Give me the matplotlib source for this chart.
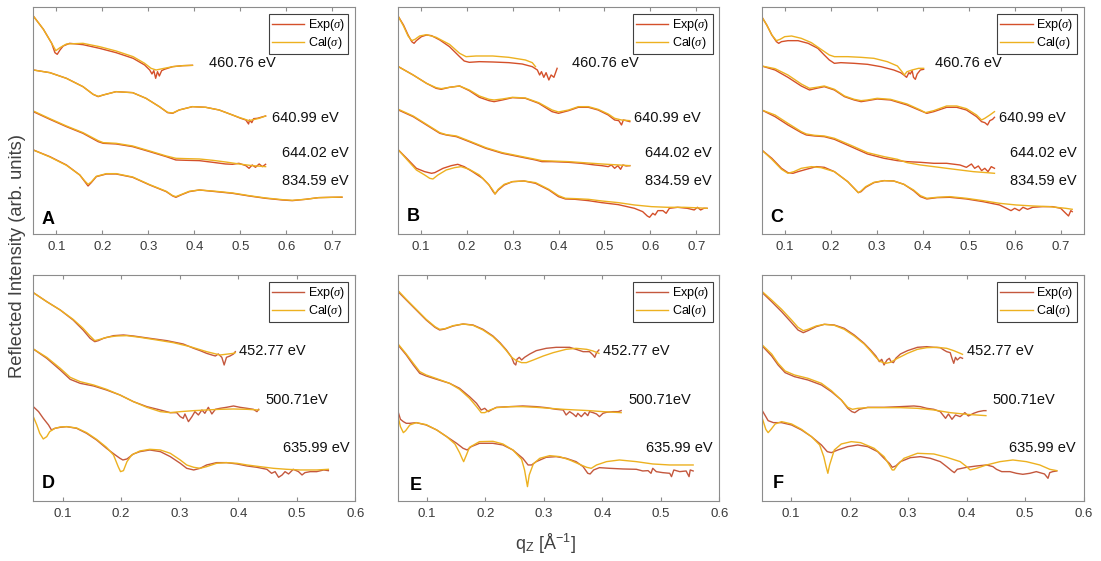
import matplotlib
matplotlib.use("Agg")
import matplotlib.pyplot as plt
from matplotlib.lines import Line2D

plt.rcParams['font.family'] = ['Liberation Sans', 'DejaVu Sans']
plt.rcParams['mathtext.fontset'] = 'custom'
plt.rcParams['mathtext.it'] = 'Liberation Serif:italic'
plt.rcParams['mathtext.rm'] = 'Liberation Sans'

# ---------------- Panel A ----------------
A1_exp_x = [0.050,0.072,0.090,0.097,0.102,0.108,0.115,0.129,0.158,0.194,0.230,0.267,0.292,0.303,0.308,0.312,0.316,0.320,0.324,0.329,0.335,0.353,0.375,0.396]
A1_exp_y = [655,615,573,545,540,553,565,573,569,558,545,528,508,493,481,491,468,488,475,491,495,503,506,507]
A1_cal_x = [0.050,0.072,0.090,0.099,0.108,0.122,0.158,0.194,0.230,0.267,0.292,0.306,0.317,0.331,0.353,0.375,0.396]
A1_cal_y = [655,615,573,551,560,571,573,563,550,533,513,498,493,497,503,506,507]
A2_exp_x = [0.050,0.086,0.122,0.158,0.180,0.191,0.202,0.230,0.266,0.295,0.324,0.342,0.353,0.367,0.396,0.425,0.454,0.483,0.501,0.512,0.518,0.520,0.525,0.529,0.537,0.555]
A2_exp_y = [493,485,468,443,420,413,418,428,425,408,383,365,363,373,383,381,373,358,348,343,331,343,335,347,348,355]
A2_cal_x = [0.050,0.086,0.122,0.158,0.180,0.191,0.202,0.230,0.266,0.295,0.324,0.342,0.353,0.367,0.396,0.425,0.454,0.483,0.497,0.519,0.541,0.555]
A2_cal_y = [493,485,468,443,420,414,418,428,425,408,383,366,364,373,383,381,373,358,351,341,348,355]
A3_exp_x = [0.050,0.086,0.122,0.158,0.191,0.202,0.230,0.266,0.303,0.339,0.360,0.382,0.411,0.440,0.468,0.483,0.497,0.512,0.519,0.526,0.533,0.541,0.548,0.555]
A3_exp_y = [368,345,323,303,278,273,271,263,248,233,223,222,221,216,211,210,213,206,198,208,201,211,203,210]
A3_cal_x = [0.050,0.086,0.122,0.158,0.191,0.202,0.230,0.266,0.303,0.339,0.360,0.382,0.411,0.440,0.468,0.497,0.526,0.555]
A3_cal_y = [370,347,325,305,281,275,273,265,250,235,228,227,226,222,217,211,206,203]
A4_exp_x = [0.050,0.086,0.122,0.151,0.162,0.169,0.176,0.187,0.209,0.230,0.266,0.303,0.339,0.353,0.360,0.371,0.389,0.411,0.447,0.483,0.519,0.555,0.591,0.613,0.642,0.670,0.699,0.721]
A4_exp_y = [253,233,208,178,158,145,155,173,181,181,171,148,128,115,111,118,128,133,128,123,115,108,103,101,105,110,111,111]
A4_cal_x = [0.050,0.086,0.122,0.151,0.162,0.169,0.176,0.187,0.209,0.230,0.266,0.303,0.339,0.353,0.360,0.371,0.389,0.411,0.447,0.483,0.519,0.555,0.591,0.613,0.642,0.670,0.699,0.721]
A4_cal_y = [253,232,207,178,160,150,157,174,182,182,172,149,129,116,113,119,129,133,129,124,116,109,104,102,105,110,111,112]

# ---------------- Panel B ----------------
B1_exp_x = [0.052,0.063,0.073,0.081,0.086,0.091,0.102,0.113,0.124,0.142,0.163,0.185,0.195,0.206,0.228,0.257,0.292,0.321,0.343,0.354,0.359,0.363,0.368,0.373,0.379,0.384,0.390,0.397]
B1_exp_y = [653,628,598,578,573,581,593,598,596,583,563,533,520,516,518,517,515,511,503,493,478,488,471,485,463,478,471,498]
B1_cal_x = [0.052,0.063,0.073,0.081,0.088,0.098,0.113,0.134,0.163,0.185,0.199,0.221,0.257,0.292,0.328,0.343,0.350]
B1_cal_y = [653,625,595,581,585,595,599,591,570,543,533,535,535,531,523,515,503]
B2_exp_x = [0.052,0.084,0.113,0.134,0.145,0.163,0.185,0.206,0.228,0.249,0.260,0.278,0.300,0.328,0.357,0.386,0.400,0.422,0.443,0.465,0.486,0.508,0.522,0.531,0.537,0.541,0.547,0.555]
B2_exp_y = [503,478,453,438,435,441,445,431,411,401,398,403,410,408,393,368,363,371,381,381,373,358,343,341,328,343,341,338]
B2_cal_x = [0.052,0.084,0.113,0.134,0.145,0.163,0.185,0.206,0.228,0.249,0.260,0.278,0.300,0.328,0.357,0.386,0.400,0.422,0.443,0.465,0.486,0.508,0.522,0.537,0.555]
B2_cal_y = [503,478,453,440,437,441,445,433,415,405,403,406,411,409,395,373,367,373,383,383,375,361,348,343,341]
B3_exp_x = [0.052,0.084,0.113,0.142,0.156,0.178,0.206,0.242,0.278,0.314,0.350,0.364,0.386,0.422,0.450,0.479,0.494,0.508,0.515,0.522,0.529,0.535,0.540,0.547,0.555]
B3_exp_y = [373,353,328,303,298,293,278,258,243,233,223,218,218,216,213,208,206,203,208,198,206,195,208,205,206]
B3_cal_x = [0.052,0.084,0.113,0.142,0.156,0.178,0.206,0.242,0.278,0.314,0.350,0.364,0.422,0.494,0.555]
B3_cal_y = [375,355,330,305,299,295,280,260,245,235,225,221,218,211,206]
B4_exp_x = [0.052,0.070,0.091,0.109,0.124,0.131,0.149,0.167,0.181,0.195,0.213,0.235,0.249,0.258,0.262,0.269,0.282,0.300,0.325,0.350,0.379,0.400,0.415,0.436,0.465,0.494,0.530,0.565,0.583,0.593,0.598,0.605,0.610,0.616,0.627,0.634,0.641,0.659,0.680,0.695,0.702,0.709,0.716,0.723]
B4_exp_y = [253,228,198,188,183,185,198,206,210,203,188,168,148,128,121,133,148,158,160,153,133,113,106,105,101,95,89,78,68,55,51,63,58,71,71,63,78,81,78,73,81,73,78,78]
B4_cal_x = [0.052,0.070,0.091,0.109,0.120,0.127,0.138,0.156,0.174,0.188,0.206,0.228,0.246,0.257,0.262,0.269,0.282,0.300,0.325,0.350,0.379,0.400,0.415,0.436,0.465,0.494,0.530,0.565,0.602,0.637,0.673,0.709,0.723]
B4_cal_y = [253,225,193,178,168,166,178,193,200,203,195,178,153,133,121,135,150,158,160,155,135,116,108,107,105,100,95,88,83,81,81,79,78]

# ---------------- Panel C ----------------
C1_exp_x = [0.050,0.061,0.072,0.082,0.087,0.093,0.107,0.129,0.151,0.172,0.186,0.197,0.208,0.222,0.251,0.280,0.309,0.337,0.352,0.359,0.365,0.370,0.373,0.377,0.380,0.384,0.388,0.395,0.402]
C1_exp_y = [653,628,598,578,573,578,581,581,573,558,538,523,513,515,513,510,503,493,485,478,471,485,481,491,471,465,481,493,495]
C1_cal_x = [0.050,0.061,0.072,0.082,0.090,0.100,0.115,0.136,0.158,0.179,0.197,0.208,0.237,0.266,0.294,0.323,0.345,0.355,0.360,0.366,0.377,0.391,0.402]
C1_cal_y = [653,628,598,581,585,593,595,588,575,555,538,533,533,531,528,518,505,488,478,488,493,498,498]
C2_exp_x = [0.050,0.079,0.107,0.136,0.154,0.169,0.186,0.208,0.230,0.251,0.266,0.280,0.301,0.330,0.366,0.395,0.409,0.424,0.452,0.474,0.495,0.517,0.528,0.535,0.541,0.546,0.552,0.556]
C2_exp_y = [505,493,471,445,433,438,443,433,413,403,398,401,406,403,388,371,363,368,381,381,373,353,338,335,328,341,345,351]
C2_cal_x = [0.050,0.079,0.107,0.136,0.154,0.169,0.186,0.208,0.230,0.251,0.266,0.280,0.301,0.330,0.366,0.395,0.406,0.424,0.452,0.474,0.495,0.517,0.528,0.535,0.546,0.556]
C2_cal_y = [505,497,478,451,438,441,445,435,415,405,401,403,408,405,391,373,365,371,385,385,377,358,343,348,358,368]
C3_exp_x = [0.050,0.079,0.107,0.136,0.147,0.165,0.186,0.208,0.244,0.280,0.316,0.345,0.366,0.395,0.424,0.452,0.481,0.495,0.506,0.513,0.521,0.528,0.535,0.542,0.549,0.556]
C3_exp_y = [373,353,328,305,298,295,293,285,263,241,228,221,218,216,213,213,208,201,211,198,205,191,198,188,203,198]
C3_cal_x = [0.050,0.079,0.107,0.136,0.147,0.165,0.186,0.208,0.244,0.280,0.316,0.345,0.366,0.395,0.424,0.452,0.481,0.510,0.539,0.556]
C3_cal_y = [373,358,333,308,301,297,295,288,267,245,233,225,215,208,203,198,193,188,185,183]
C4_exp_x = [0.050,0.072,0.093,0.107,0.118,0.129,0.147,0.169,0.186,0.208,0.237,0.251,0.260,0.266,0.276,0.294,0.316,0.337,0.359,0.380,0.395,0.409,0.431,0.459,0.495,0.531,0.567,0.582,0.592,0.600,0.610,0.618,0.628,0.639,0.661,0.682,0.700,0.711,0.717,0.722,0.725]
C4_exp_y = [253,228,198,185,183,188,195,203,201,188,158,138,125,128,141,155,161,160,150,131,113,106,110,111,106,98,88,78,71,78,71,81,75,81,83,83,78,63,55,71,68]
C4_cal_x = [0.050,0.072,0.093,0.107,0.120,0.136,0.158,0.179,0.208,0.237,0.251,0.260,0.266,0.276,0.294,0.316,0.337,0.359,0.380,0.395,0.409,0.431,0.459,0.495,0.531,0.567,0.603,0.639,0.675,0.711,0.725]
C4_cal_y = [253,225,195,183,188,198,203,200,188,158,138,125,130,143,156,161,160,150,133,116,108,111,113,108,101,93,88,85,83,78,75]

# ---------------- Panel D ----------------
D1_exp_x = [0.050,0.073,0.096,0.118,0.135,0.147,0.155,0.161,0.170,0.187,0.204,0.221,0.249,0.278,0.306,0.324,0.335,0.346,0.355,0.361,0.366,0.372,0.376,0.380,0.386,0.392,0.395]
D1_exp_y = [626,599,574,544,514,489,479,482,489,497,499,496,489,482,472,459,452,444,439,436,442,432,409,432,436,442,449]
D1_cal_x = [0.050,0.073,0.096,0.118,0.135,0.147,0.155,0.164,0.175,0.192,0.210,0.232,0.261,0.289,0.318,0.346,0.369,0.392,0.395]
D1_cal_y = [626,599,574,546,519,496,482,486,492,496,497,492,484,476,464,449,439,444,446]
D2_exp_x = [0.050,0.073,0.096,0.113,0.130,0.153,0.175,0.198,0.221,0.244,0.267,0.284,0.295,0.301,0.306,0.309,0.315,0.321,0.326,0.332,0.338,0.343,0.349,0.355,0.361,0.369,0.380,0.392,0.403,0.415,0.426,0.432,0.435]
D2_exp_y = [457,429,394,366,354,346,334,319,299,284,274,266,266,254,249,262,239,254,269,259,274,264,282,262,276,279,282,286,282,279,276,269,276]
D2_cal_x = [0.050,0.073,0.096,0.113,0.130,0.153,0.175,0.198,0.221,0.244,0.267,0.284,0.301,0.324,0.346,0.369,0.392,0.415,0.435]
D2_cal_y = [457,432,399,372,359,349,336,319,299,282,269,266,269,272,274,276,277,276,274]
D3_exp_x = [0.050,0.059,0.067,0.076,0.081,0.087,0.096,0.107,0.124,0.141,0.158,0.175,0.190,0.198,0.203,0.210,0.221,0.232,0.249,0.267,0.284,0.301,0.312,0.324,0.335,0.346,0.363,0.380,0.398,0.415,0.432,0.449,0.457,0.463,0.469,0.475,0.480,0.486,0.494,0.503,0.509,0.514,0.523,0.534,0.546,0.554]
D3_exp_y = [284,269,249,229,214,219,222,224,219,204,184,159,139,129,124,127,142,149,154,149,134,114,99,94,99,109,116,116,112,106,102,96,84,89,72,79,89,82,96,89,79,86,89,89,94,92]
D3_cal_x = [0.050,0.056,0.061,0.067,0.073,0.078,0.087,0.096,0.107,0.124,0.141,0.158,0.175,0.187,0.195,0.199,0.204,0.210,0.218,0.232,0.249,0.267,0.284,0.301,0.312,0.324,0.335,0.346,0.363,0.380,0.398,0.415,0.437,0.460,0.483,0.506,0.534,0.554]
D3_cal_y = [254,229,204,187,194,209,219,223,224,220,206,186,162,139,104,89,92,119,139,151,156,154,144,124,109,102,99,104,114,116,114,109,104,99,96,94,94,96]

# ---------------- Panel E ----------------
E1_exp_x = [0.051,0.065,0.082,0.099,0.114,0.122,0.131,0.145,0.162,0.179,0.196,0.213,0.225,0.236,0.245,0.249,0.252,0.254,0.258,0.262,0.267,0.276,0.287,0.304,0.321,0.344,0.355,0.367,0.378,0.384,0.387,0.390,0.394]
E1_exp_y = [629,604,574,544,522,514,517,526,532,529,516,496,476,454,432,414,409,426,432,424,432,442,452,459,462,462,456,449,449,439,432,446,454]
E1_cal_x = [0.051,0.065,0.082,0.099,0.114,0.122,0.131,0.145,0.162,0.179,0.196,0.213,0.225,0.236,0.245,0.253,0.262,0.270,0.282,0.299,0.316,0.338,0.355,0.373,0.384,0.394]
E1_cal_y = [632,606,576,546,524,516,518,527,532,528,514,494,474,452,432,422,416,416,424,436,446,456,459,456,451,444]
E2_exp_x = [0.051,0.065,0.077,0.088,0.099,0.117,0.139,0.156,0.173,0.185,0.193,0.199,0.205,0.210,0.219,0.242,0.264,0.287,0.304,0.321,0.333,0.338,0.344,0.350,0.355,0.358,0.364,0.370,0.375,0.378,0.384,0.390,0.395,0.401,0.407,0.418,0.427,0.432]
E2_exp_y = [469,439,409,384,376,366,354,339,314,294,274,279,269,274,282,284,286,284,281,276,274,259,269,262,254,264,254,266,257,269,266,262,254,264,267,269,269,272]
E2_cal_x = [0.051,0.065,0.077,0.088,0.099,0.117,0.139,0.156,0.173,0.185,0.193,0.199,0.208,0.219,0.242,0.264,0.287,0.310,0.333,0.355,0.378,0.401,0.432]
E2_cal_y = [472,442,414,389,379,368,354,336,309,284,266,266,274,281,284,284,282,279,276,274,272,269,266]
E3_exp_x = [0.051,0.055,0.060,0.065,0.071,0.082,0.099,0.117,0.134,0.151,0.162,0.169,0.176,0.190,0.213,0.230,0.247,0.264,0.273,0.279,0.287,0.304,0.321,0.338,0.355,0.367,0.375,0.379,0.385,0.395,0.412,0.435,0.458,0.469,0.478,0.483,0.486,0.492,0.503,0.515,0.518,0.522,0.532,0.543,0.548,0.550,0.555]
E3_exp_y = [269,246,239,234,234,236,229,214,194,174,159,154,164,174,174,169,154,129,109,109,119,132,134,129,119,104,84,82,94,101,99,97,96,91,92,84,99,89,86,84,74,94,89,91,74,94,91]
E3_cal_x = [0.051,0.055,0.060,0.064,0.071,0.082,0.099,0.117,0.134,0.148,0.156,0.161,0.163,0.167,0.173,0.190,0.213,0.230,0.247,0.262,0.267,0.272,0.275,0.282,0.293,0.310,0.327,0.344,0.361,0.373,0.381,0.390,0.407,0.429,0.458,0.486,0.515,0.555]
E3_cal_y = [254,224,206,212,229,236,230,214,194,172,146,126,119,136,162,179,180,172,154,126,94,44,79,112,129,137,134,124,111,102,99,109,119,124,119,112,109,109]

# ---------------- Panel F ----------------
F1_exp_x = [0.051,0.067,0.084,0.101,0.112,0.121,0.129,0.143,0.157,0.174,0.191,0.208,0.225,0.236,0.245,0.251,0.255,0.259,0.264,0.268,0.271,0.275,0.279,0.287,0.299,0.316,0.332,0.344,0.355,0.361,0.366,0.372,0.375,0.378,0.381,0.384,0.389,0.393]
F1_exp_y = [626,599,569,536,514,506,512,524,531,529,519,499,474,454,436,419,426,409,424,429,419,416,429,442,452,462,464,462,461,454,449,446,429,414,432,424,432,429]
F1_cal_x = [0.051,0.067,0.084,0.101,0.112,0.121,0.129,0.143,0.157,0.174,0.191,0.208,0.225,0.236,0.245,0.253,0.262,0.270,0.282,0.299,0.316,0.332,0.349,0.366,0.378,0.389,0.393]
F1_cal_y = [629,604,576,544,522,512,516,526,531,528,516,496,472,451,432,419,414,417,429,444,456,461,462,459,452,444,441]
F2_exp_x = [0.051,0.067,0.078,0.090,0.106,0.129,0.152,0.169,0.186,0.197,0.204,0.209,0.217,0.231,0.259,0.287,0.310,0.321,0.332,0.344,0.355,0.364,0.369,0.375,0.381,0.389,0.397,0.403,0.412,0.420,0.429,0.433]
F2_exp_y = [466,436,409,386,374,364,349,329,304,279,269,266,276,282,282,284,286,284,279,276,269,249,262,246,259,254,266,256,264,269,272,272]
F2_cal_x = [0.051,0.067,0.078,0.090,0.106,0.129,0.152,0.169,0.186,0.197,0.205,0.214,0.231,0.259,0.287,0.316,0.344,0.372,0.400,0.433]
F2_cal_y = [469,442,414,391,379,369,354,332,304,282,276,279,281,281,281,279,274,266,261,257]
F3_exp_x = [0.051,0.057,0.061,0.070,0.084,0.101,0.118,0.135,0.152,0.162,0.169,0.180,0.197,0.214,0.231,0.248,0.259,0.268,0.273,0.279,0.287,0.304,0.321,0.338,0.355,0.366,0.375,0.379,0.384,0.400,0.417,0.434,0.445,0.451,0.460,0.474,0.485,0.496,0.508,0.519,0.525,0.533,0.539,0.542,0.547,0.554]
F3_exp_y = [272,254,242,236,236,229,214,194,169,149,146,154,164,169,164,149,129,114,102,106,119,131,134,129,119,104,91,86,96,102,106,109,104,96,89,89,84,81,84,89,86,82,69,86,89,91]
F3_cal_x = [0.051,0.057,0.061,0.066,0.073,0.084,0.101,0.118,0.135,0.149,0.156,0.160,0.163,0.166,0.174,0.186,0.203,0.219,0.242,0.259,0.268,0.273,0.276,0.282,0.293,0.316,0.344,0.366,0.389,0.400,0.406,0.417,0.434,0.457,0.479,0.502,0.525,0.542,0.554]
F3_cal_y = [249,216,206,216,232,239,232,216,194,169,134,104,84,109,154,172,179,176,159,134,109,94,94,109,129,144,142,132,119,104,94,99,109,119,124,119,109,96,92]

# ---------------- labels ----------------
panel_letters = ['A', 'B', 'C', 'D', 'E', 'F']
top_energies = ['460.76 eV', '640.99 eV', '644.02 eV', '834.59 eV']
bottom_energies = ['452.77 eV', '500.71eV', '635.99 eV']
top_label_x = [[0.431, 0.568, 0.591, 0.591], [0.429, 0.565, 0.587, 0.587], [0.427, 0.566, 0.589, 0.589]]
top_label_y = [513, 348, 245, 160]
bottom_label_x = [[0.402, 0.447, 0.476], [0.401, 0.445, 0.474], [0.400, 0.444, 0.473]]
bottom_label_y = [451, 304, 159]
top_xticks = [0.1, 0.2, 0.3, 0.4, 0.5, 0.6, 0.7]
bottom_xticks = [0.1, 0.2, 0.3, 0.4, 0.5, 0.6]

EXP_TOP = '#D4502A'
EXP_BOT = '#C4583E'
CAL = '#EDB120'
TXT = '#3a3a3a'

panels = [
    [(A1_exp_x, A1_exp_y, A1_cal_x, A1_cal_y), (A2_exp_x, A2_exp_y, A2_cal_x, A2_cal_y),
     (A3_exp_x, A3_exp_y, A3_cal_x, A3_cal_y), (A4_exp_x, A4_exp_y, A4_cal_x, A4_cal_y)],
    [(B1_exp_x, B1_exp_y, B1_cal_x, B1_cal_y), (B2_exp_x, B2_exp_y, B2_cal_x, B2_cal_y),
     (B3_exp_x, B3_exp_y, B3_cal_x, B3_cal_y), (B4_exp_x, B4_exp_y, B4_cal_x, B4_cal_y)],
    [(C1_exp_x, C1_exp_y, C1_cal_x, C1_cal_y), (C2_exp_x, C2_exp_y, C2_cal_x, C2_cal_y),
     (C3_exp_x, C3_exp_y, C3_cal_x, C3_cal_y), (C4_exp_x, C4_exp_y, C4_cal_x, C4_cal_y)],
    [(D1_exp_x, D1_exp_y, D1_cal_x, D1_cal_y), (D2_exp_x, D2_exp_y, D2_cal_x, D2_cal_y),
     (D3_exp_x, D3_exp_y, D3_cal_x, D3_cal_y)],
    [(E1_exp_x, E1_exp_y, E1_cal_x, E1_cal_y), (E2_exp_x, E2_exp_y, E2_cal_x, E2_cal_y),
     (E3_exp_x, E3_exp_y, E3_cal_x, E3_cal_y)],
    [(F1_exp_x, F1_exp_y, F1_cal_x, F1_cal_y), (F2_exp_x, F2_exp_y, F2_cal_x, F2_cal_y),
     (F3_exp_x, F3_exp_y, F3_cal_x, F3_cal_y)],
]

fig = plt.figure(figsize=(11.01, 5.61), dpi=100)
W, H = 1101.0, 561.0
col_left = [33.3, 397.5, 761.7]
ax_w = 322.0
rows = [(7.0, 234.3), (275.0, 501.3)]
letter_pos = [(0.026, 0.063), (0.029, 0.077), (0.026, 0.072), (0.026, 0.080), (0.038, 0.072), (0.035, 0.080)]

for i in range(6):
    r, c = divmod(i, 3)
    top, bot = rows[r]
    ax = fig.add_axes([col_left[c] / W, 1 - bot / H, ax_w / W, (bot - top) / H])
    exp_col = EXP_TOP if r == 0 else EXP_BOT
    for (ex, ey, cx, cy) in panels[i]:
        ax.plot(ex, ey, color=exp_col, lw=1.0, solid_joinstyle='round')
        ax.plot(cx, cy, color=CAL, lw=1.0, solid_joinstyle='round')
    if r == 0:
        ax.set_xlim(0.05, 0.75)
        ax.set_ylim(0, 682)
        ax.set_xticks(top_xticks)
        for k, lab in enumerate(top_energies):
            ax.text(top_label_x[c][k], top_label_y[k], lab, fontsize=10.5, color='#111111', ha='left', va='center')
    else:
        ax.set_xlim(0.05, 0.6)
        ax.set_ylim(0, 679)
        ax.set_xticks(bottom_xticks)
        for k, lab in enumerate(bottom_energies):
            ax.text(bottom_label_x[c][k], bottom_label_y[k], lab, fontsize=10.5, color='#111111', ha='left', va='center')
    ax.set_xticklabels([f'{t:.1f}' for t in ax.get_xticks()])
    ax.set_yticks([])
    for s in ax.spines.values():
        s.set_color('#8c8c8c')
        s.set_linewidth(0.8)
    ax.tick_params(axis='x', direction='in', top=True, length=3, width=0.8, color='#8c8c8c',
                   labelsize=9.5, labelcolor=TXT, pad=5)
    lx, ly = letter_pos[i]
    ax.text(lx, ly, panel_letters[i], transform=ax.transAxes, fontsize=13, fontweight='bold',
            color='black', ha='left', va='center')
    handles = [Line2D([], [], color=exp_col, lw=1.0), Line2D([], [], color=CAL, lw=1.0)]
    leg = ax.legend(handles, [r'Exp($\sigma$)', r'Cal($\sigma$)'], loc='upper right', fontsize=9,
                    frameon=True, fancybox=False, framealpha=1, edgecolor='#404040',
                    handlelength=2.6, handletextpad=0.3, borderpad=0.25, labelspacing=0.15,
                    borderaxespad=0.55)
    leg.get_frame().set_linewidth(0.8)

fig.text(18 / W, 1 - 256 / H, 'Reflected Intensity (arb. units)', rotation=90, fontsize=13.2,
         color='#404040', ha='center', va='center')
fig.text(546 / W, 1 - 543 / H, r'q$_{\rm Z}$ [Å$^{-1}$]', fontsize=13, color='#404040',
         ha='center', va='center')

fig.savefig('out.png', dpi=100, facecolor='white')
